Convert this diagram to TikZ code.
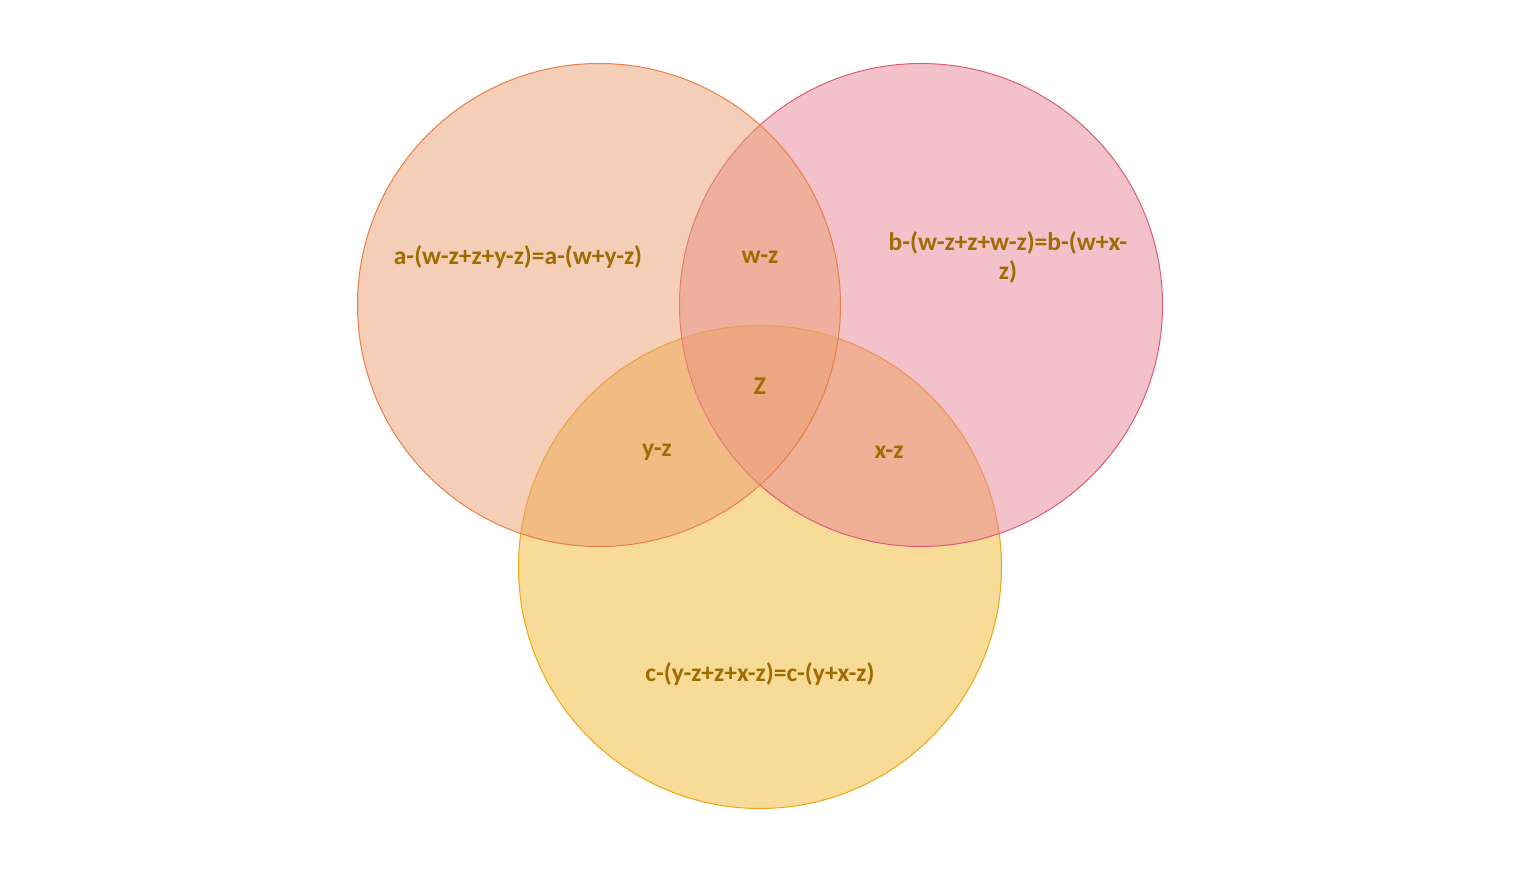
\documentclass[tikz,border=0pt]{standalone}
\usepackage{fontspec}
\setmainfont{Carlito}
\definecolor{txt}{RGB}{158,108,0}
\definecolor{fa}{RGB}{235,159,113}
\definecolor{fb}{RGB}{233,133,149}
\definecolor{fc}{RGB}{241,185,47}
\definecolor{sa}{RGB}{235,125,70}
\definecolor{sb}{RGB}{222,92,115}
\definecolor{sc}{RGB}{240,165,20}
\begin{document}
\begin{tikzpicture}[x=1pt,y=-1pt,
  lbl/.style={text=txt,font=\bfseries\fontsize{25.5}{29}\selectfont,align=center,inner sep=0pt},
  circ/.style={circle,minimum size=483pt,inner sep=0pt,line width=1pt,fill opacity=0.5}]
\useasboundingbox (0,0) rectangle (1516,872);
\fill[white] (0,0) rectangle (1516,872);
\node[circ,draw=sc,fill=fc] (C) at (760,567) {};
\node[circ,draw=sb,fill=fb] (B) at (921,305) {};
\node[circ,draw=sa,fill=fa] (A) at (599,305) {};
\node[lbl] (la) at (518,257) {a-(w-z+z+y-z)=a-(w+y-z)};
\node[lbl] (lwz) at (760,257) {w-z};
\node[lbl] (lb) at (1008,257) {b-(w-z+z+w-z)=b-(w+x-\\z)};
\node[lbl] (lz) at (760,386) {Z};
\node[lbl] (lyz) at (657,452) {y-z};
\node[lbl] (lxz) at (889,452) {x-z};
\node[lbl] (lc) at (760,674) {c-(y-z+z+x-z)=c-(y+x-z)};
\end{tikzpicture}
\end{document}
